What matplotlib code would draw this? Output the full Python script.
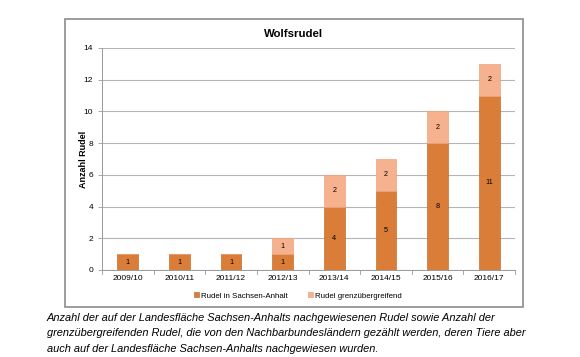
import matplotlib.pyplot as plt
from matplotlib.patches import Rectangle

plt.rcParams['font.family'] = ['Liberation Sans', 'DejaVu Sans']

# data
seasons = ["2009/10", "2010/11", "2011/12", "2012/13",
           "2013/14", "2014/15", "2015/16", "2016/17"]
rudel_sa = [1, 1, 1, 1, 4, 5, 8, 11]
rudel_grenz = [0, 0, 0, 1, 2, 2, 2, 2]

dark = "#DA7D38"
light = "#F6B28E"

W, H = 580, 357
fig = plt.figure(figsize=(W / 100, H / 100), dpi=100)


def fx(px):
    return px / W


def fy(py):
    return 1 - py / H


# outer chart frame
fig.patches.append(Rectangle((fx(65), fy(307)), fx(523) - fx(65), fy(19) - fy(307),
                             transform=fig.transFigure, fill=False,
                             edgecolor="#8c8c8c", linewidth=1.2))

ax = fig.add_axes([fx(102), fy(270), fx(515) - fx(102), fy(48) - fy(270)])
x = list(range(len(seasons)))
b1 = ax.bar(x, rudel_sa, width=0.4, color=dark, edgecolor="#C96E2C",
            linewidth=0.5, label="Rudel in Sachsen-Anhalt", zorder=3)
b2 = ax.bar(x, rudel_grenz, width=0.4, bottom=rudel_sa, color=light,
            edgecolor="#EFA37C", linewidth=0.5,
            label="Rudel grenzübergreifend", zorder=3)

for xi, a, g in zip(x, rudel_sa, rudel_grenz):
    ax.text(xi, a / 2, str(a), ha="center", va="center", fontsize=5.2)
    if g:
        ax.text(xi, a + g / 2, str(g), ha="center", va="center", fontsize=5.2)

ax.set_xlim(-0.5, len(seasons) - 0.5)
ax.set_ylim(0, 14)
ax.set_yticks(range(0, 15, 2))
ax.set_xticks(x)
ax.set_xticklabels(seasons)
ax.tick_params(axis="both", labelsize=6, length=3, color="#999999", width=0.6)
ax.tick_params(axis="x", length=0)
ax.yaxis.grid(True, color="#b5b5b5", linewidth=0.8, zorder=0)
for s in ["top", "right"]:
    ax.spines[s].set_visible(False)
ax.spines["left"].set_color("#999999")
ax.spines["bottom"].set_color("#999999")
ax.spines["left"].set_linewidth(0.7)
ax.spines["bottom"].set_linewidth(0.7)
# small category separators on x axis
for b in range(len(seasons) + 1):
    ax.plot([b - 0.5, b - 0.5], [0, -0.25], color="#999999", lw=0.6,
            clip_on=False)

ax.set_ylabel("Anzahl Rudel", fontsize=6.5, fontweight="bold")
ax.yaxis.set_label_coords(-0.035, 0.5)
fig.text(fx(294), fy(34), "Wolfsrudel", ha="center", va="center",
         fontsize=8.2, fontweight="bold")

fig.legend(handles=[b1, b2], loc="center", bbox_to_anchor=(fx(298), fy(296)),
           ncol=2, frameon=False, fontsize=5.7, handlelength=0.6,
           handleheight=0.6, handletextpad=0.3, columnspacing=2.6)

caption = ("Anzahl der auf der Landesfläche Sachsen-Anhalts nachgewiesenen Rudel sowie Anzahl der\n"
           "grenzübergreifenden Rudel, die von den Nachbarbundesländern gezählt werden, deren Tiere aber\n"
           "auch auf der Landesfläche Sachsen-Anhalts nachgewiesen wurden.")
fig.text(fx(47), fy(313), caption, ha="left", va="top", fontsize=7.9,
         style="italic", linespacing=1.67)

fig.savefig("out.png", dpi=100)
